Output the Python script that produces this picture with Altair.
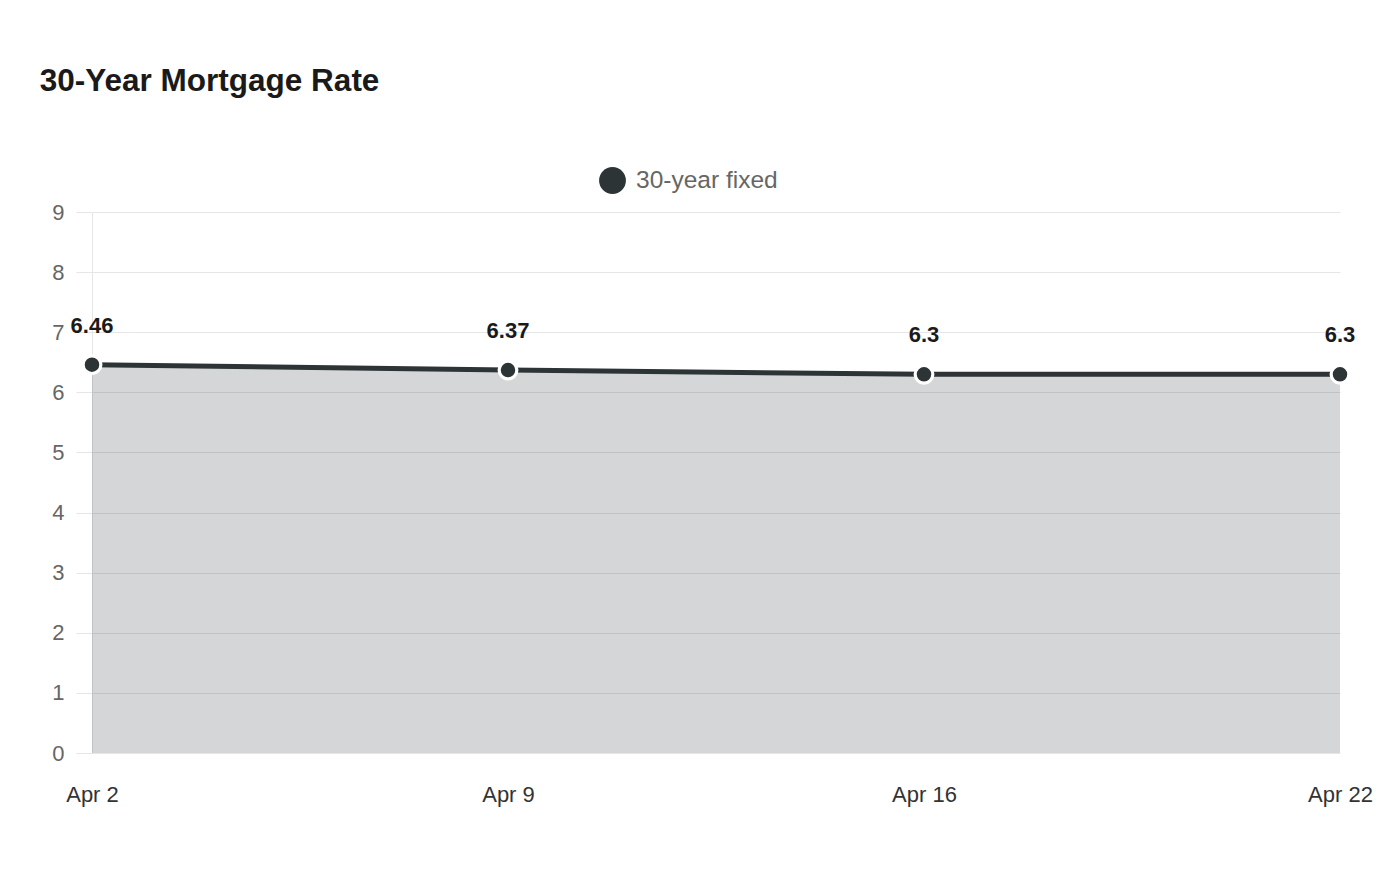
import altair as alt
import pandas as pd

dates = ["Apr 2", "Apr 9", "Apr 16", "Apr 22"]
rates = [6.46, 6.37, 6.3, 6.3]
series = ["30-year fixed"] * 4

df = pd.DataFrame({"date": dates, "rate": rates, "series": series})

DARK = "#2d3436"
GRID = "#e6e6e6"
FONT = "Liberation Sans"

x = alt.X("date:O", sort=dates, scale=alt.Scale(type="point", padding=0),
          axis=alt.Axis(title=None, labelAngle=0, labelFontSize=22, labelColor="#333333",
                        labelFont=FONT, ticks=False, domain=False, grid=False,
                        labelPadding=31))
y = alt.Y("rate:Q", scale=alt.Scale(domain=[0, 9], nice=False),
          axis=alt.Axis(title=None, values=list(range(10)), labelFontSize=22,
                        labelColor="#666666", labelFont=FONT, tickSize=16,
                        tickColor=GRID, gridColor=GRID, domainColor=GRID,
                        labelPadding=12))

base = alt.Chart(df).encode(x=x, y=y)

area = base.mark_area(color=DARK, opacity=0.2)
line = base.mark_line(strokeWidth=5).encode(
    color=alt.Color("series:N", scale=alt.Scale(domain=["30-year fixed"], range=[DARK]),
                    legend=alt.Legend(title=None, orient="none", legendX=507, legendY=-45,
                                      symbolType="circle", symbolSize=720,
                                      symbolFillColor=DARK, symbolStrokeWidth=0,
                                      labelFontSize=24.5, labelColor="#666666",
                                      labelFont=FONT, labelOffset=10))
)
points = base.mark_point(filled=True, fill=DARK, stroke="white", strokeWidth=3.2,
                         size=314, opacity=1, shape="circle")
labels = base.mark_text(dy=-39, fontSize=22, fontWeight="bold", color="#1a1a1a",
                        font=FONT, baseline="middle").encode(text=alt.Text("rate:Q"))

chart = alt.layer(area, line, points, labels).properties(
    width=1248, height=541,
    padding={"left": 84, "top": 204, "right": 50, "bottom": 100},
    autosize=alt.AutoSizeParams(type="none"),
    title=alt.TitleParams("30-Year Mortgage Rate", anchor="start", fontSize=31.5,
                          fontWeight="bold", color="#1a1a1a", font=FONT, dx=-12,
                          offset=70)
).configure_view(stroke=None)

chart.save("out.html", embed_options={"renderer": "svg", "actions": False})
